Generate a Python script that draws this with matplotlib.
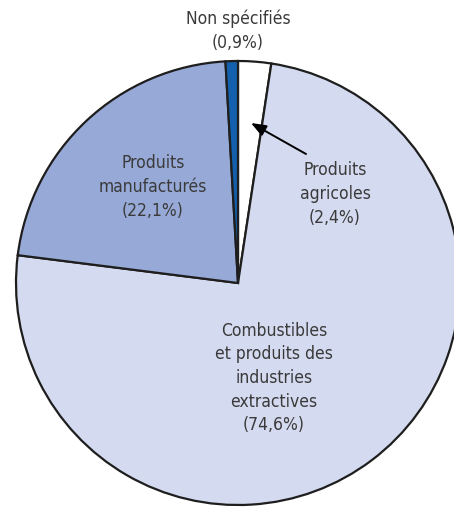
import matplotlib.pyplot as plt

# Répartition des exportations (%)
categories = ["Produits agricoles", "Combustibles", "Produits manufacturés", "Non spécifiés"]
shares = [2.4, 74.6, 22.1, 0.9]
colors = ["#FFFFFF", "#D4DAEF", "#97A9D6", "#1560AC"]

W, H = 454, 507
fig = plt.figure(figsize=(W / 100, H / 100), dpi=100)
ax = fig.add_axes([0, 0, 1, 1])

cx, cy, r = 238, H - 283, 222
ax.pie(shares, colors=colors, startangle=90, counterclock=False,
       center=(cx, cy), radius=r, frame=True,
       wedgeprops={"edgecolor": "#1E1E1E", "linewidth": 1.6})
ax.set_xlim(0, W)
ax.set_ylim(0, H)
ax.set_aspect("equal")
ax.axis("off")

txt = {"fontsize": 12.5, "color": "#3A3A3A", "ha": "center", "va": "center",
       "fontstretch": "condensed", "linespacing": 1.4}

def y(px):
    return H - px

ax.text(238, y(31), "Non spécifiés\n(0,9%)", **txt)
ax.text(153, y(187), "Produits\nmanufacturés\n(22,1%)", **txt)
ax.text(335, y(194), "Produits\nagricoles\n(2,4%)", **txt)
ax.text(274, y(378), "Combustibles\net produits des\nindustries\nextractives\n(74,6%)", **txt)

ax.annotate("", xy=(251, y(123)), xytext=(306, y(154)),
            arrowprops={"arrowstyle": "-|>,head_length=0.9,head_width=0.35",
                        "color": "black", "lw": 1.4, "shrinkA": 0, "shrinkB": 0})

fig.savefig("out.png", dpi=100)
